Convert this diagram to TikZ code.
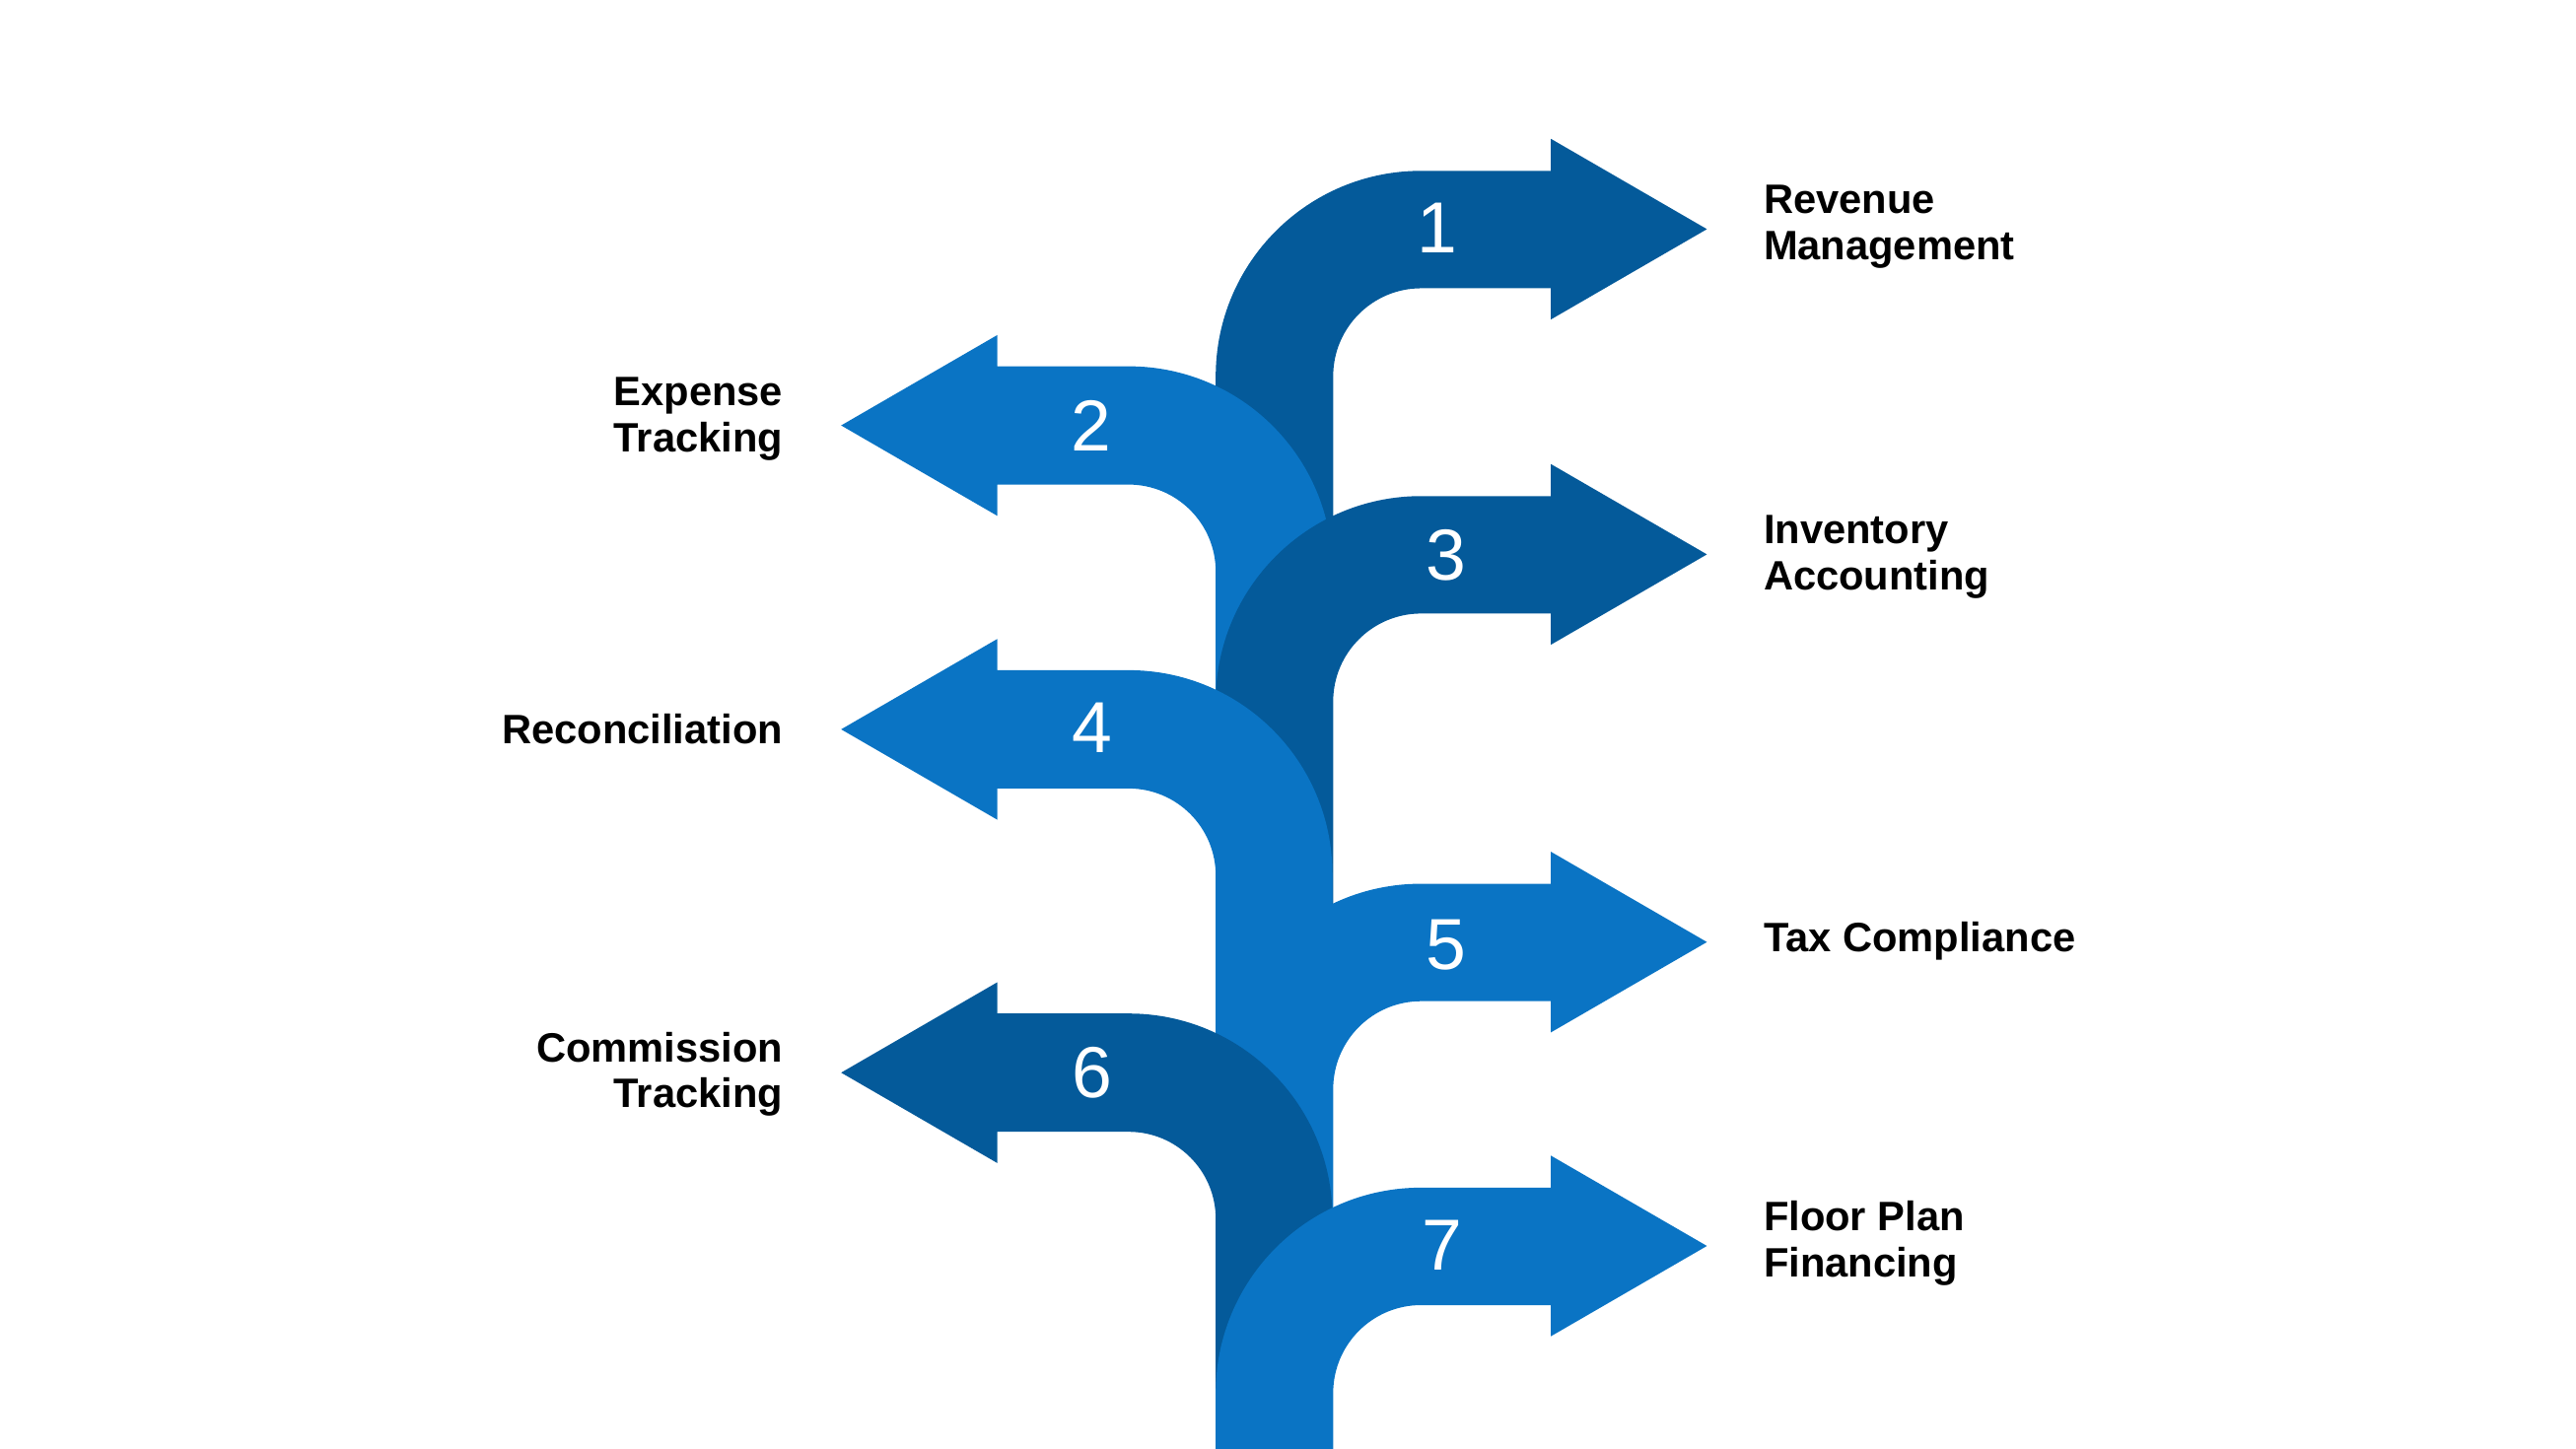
\documentclass[tikz,border=0pt]{standalone}
\usepackage{fontspec}
\setmainfont{Liberation Sans}
\definecolor{dk}{HTML}{045A9A}
\definecolor{lt}{HTML}{0A74C4}
\newcommand{\rarr}[3]{\fill[#3] (740,#2) -- (740,#1+125) arc(180:270:125) -- (944,#1) -- (944,#1-19.5) -- (1039,#1+35.5) -- (944,#1+90.5) -- (944,#1+71.5) -- (865,#1+71.5) arc(270:180:53.5) -- (811.5,#2) -- cycle;}
\newcommand{\larr}[3]{\fill[#3] (811,#2) -- (811,#1+124) arc(0:-90:124) -- (607,#1) -- (607,#1-19) -- (512,#1+36) -- (607,#1+91) -- (607,#1+72) -- (687,#1+72) arc(-90:0:53) -- (740,#2) -- cycle;}
\tikzset{num/.style={text=white,font=\fontsize{44}{44}\selectfont},
lab/.style={font=\bfseries\fontsize{25}{28}\selectfont,align=left,anchor=west},
labl/.style={font=\bfseries\fontsize{25}{28}\selectfont,align=right,anchor=east}}
\begin{document}
\begin{tikzpicture}[x=1pt,y=-1pt]
\useasboundingbox (0,0) rectangle (1568,882);
\rarr{104}{330}{dk}
\larr{223}{440}{lt}
\rarr{302}{560}{dk}
\larr{408}{650}{lt}
\rarr{538}{760}{lt}
\larr{617}{860}{dk}
\rarr{723}{882}{lt}
\node[num] (n1) at (875,139) {1};
\node[num] (n2) at (664,259) {2};
\node[num] (n3) at (880,338) {3};
\node[num] (n4) at (665,443) {4};
\node[num] (n5) at (880,575) {5};
\node[num] (n6) at (665,653) {6};
\node[num] (n7) at (878,758) {7};
\node[lab] (l1) at (1070,138) {Revenue\\Management};
\node[labl] (l2) at (480,255) {Expense\\Tracking};
\node[lab] (l3) at (1070,339) {Inventory\\Accounting};
\node[labl] (l4) at (480,444) {Reconciliation};
\node[lab] (l5) at (1070,573) {Tax Compliance};
\node[labl] (l6) at (480,654) {Commission\\Tracking};
\node[lab] (l7) at (1070,757) {Floor Plan\\Financing};
\end{tikzpicture}
\end{document}
